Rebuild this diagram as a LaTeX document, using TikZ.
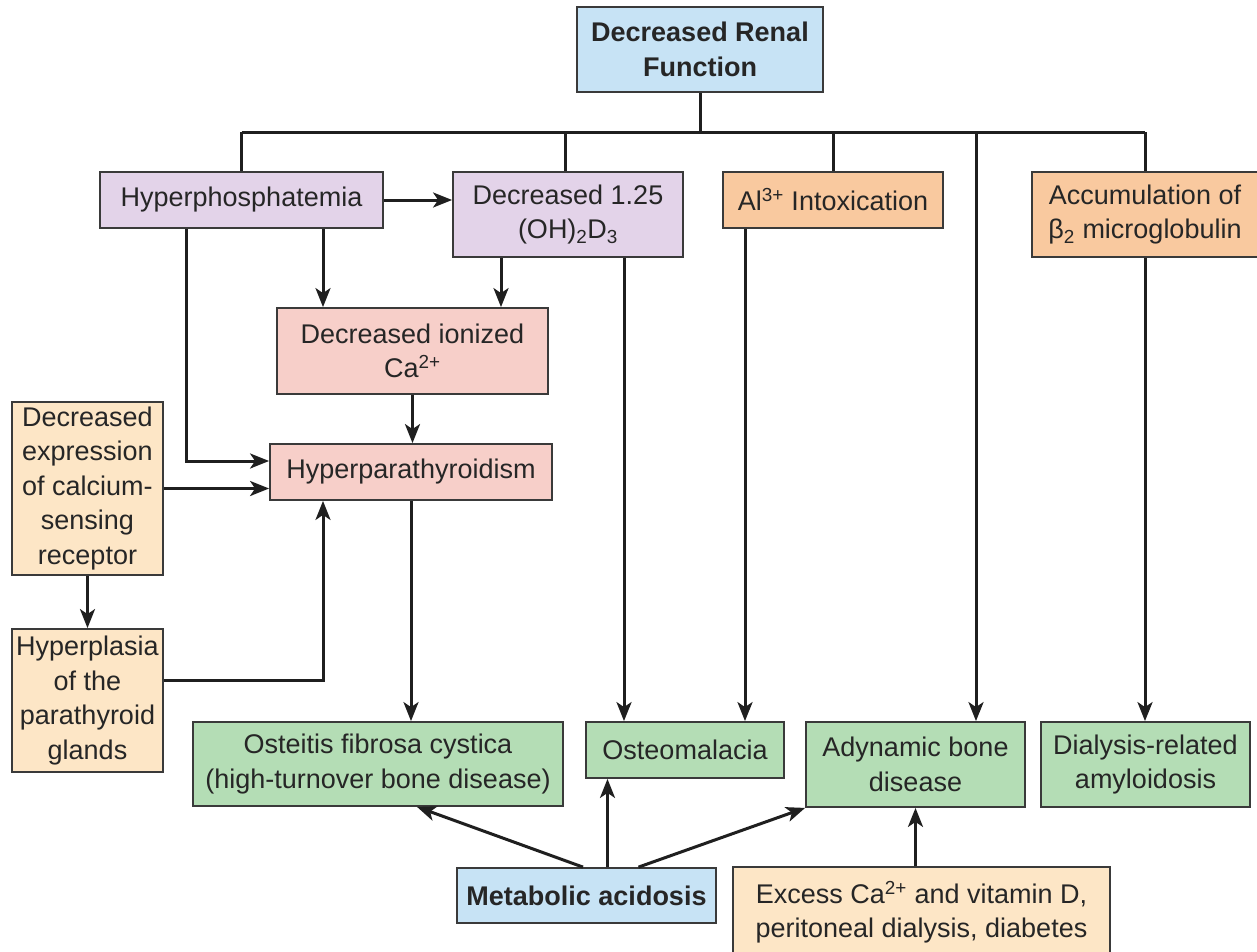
\documentclass[tikz,border=0pt]{standalone}
\usepackage{fontspec}
\setmainfont{Liberation Sans}
\usetikzlibrary{arrows.meta}

\definecolor{cblue}{HTML}{C7E3F5}
\definecolor{cpurple}{HTML}{E3D3E9}
\definecolor{corange}{HTML}{F9C99F}
\definecolor{cpink}{HTML}{F7CFC9}
\definecolor{cyellow}{HTML}{FDE6C6}
\definecolor{cgreen}{HTML}{B4DDB5}
\definecolor{cedge}{HTML}{3A3A3A}

\tikzset{
  box/.style={draw=cedge, line width=1.8pt, align=center, inner sep=0pt,
    font=\fontsize{27}{34.5}\selectfont, text=black!85},
  boxbf/.style={box, font=\fontsize{27}{34.5}\selectfont\bfseries},
  link/.style={line width=3pt, draw=black!88},
  arr/.style={link, -{Stealth[length=19pt,width=15pt,inset=5pt]}},
}

\begin{document}
\begin{tikzpicture}[x=1pt,y=-1pt]
\useasboundingbox (0,0) rectangle (1257,951);

% boxes
\node[boxbf, fill=cblue, minimum width=246, minimum height=85] (drf) at (700,49.5) {Decreased Renal\\Function};

\node[box, fill=cpurple, minimum width=283, minimum height=56] (hph) at (241.5,200) {Hyperphosphatemia};
\node[box, fill=cpurple, minimum width=230, minimum height=85] (d125) at (568,214.5) {Decreased 1.25\\(OH)\textsubscript{2}D\textsubscript{3}};
\node[box, fill=corange, minimum width=220, minimum height=56] (al) at (833,200) {Al\textsuperscript{3+} Intoxication};
\node[box, fill=corange, minimum width=226, minimum height=85] (acc) at (1145,214.5) {Accumulation of\\β\textsubscript{2} microglobulin};

\node[box, fill=cpink, minimum width=271, minimum height=86] (dic) at (412.5,351) {Decreased ionized\\Ca\textsuperscript{2+}};
\node[box, fill=cpink, minimum width=282, minimum height=56] (hpt) at (411,472) {Hyperparathyroidism};

\node[box, fill=cyellow, minimum width=151, minimum height=173] (dce) at (87.5,488.5) {Decreased\\expression\\of calcium-\\sensing\\receptor};
\node[box, fill=cyellow, minimum width=151, minimum height=143] (hpl) at (87.5,700.5) {Hyperplasia\\of the\\parathyroid\\glands};

\node[box, fill=cgreen, minimum width=370, minimum height=84] (ofc) at (378,764) {Osteitis fibrosa cystica\\(high-turnover bone disease)};
\node[box, fill=cgreen, minimum width=198, minimum height=56] (ost) at (685,750) {Osteomalacia};
\node[box, fill=cgreen, minimum width=219, minimum height=85] (adb) at (915.5,764.5) {Adynamic bone\\disease};
\node[box, fill=cgreen, minimum width=209, minimum height=85] (dra) at (1145.5,764.5) {Dialysis-related\\amyloidosis};

\node[boxbf, fill=cblue, minimum width=259, minimum height=55] (mac) at (586.5,895.5) {Metabolic acidosis};
\node[box, fill=cyellow, minimum width=377, minimum height=90] (exc) at (921.5,912) {Excess Ca\textsuperscript{2+} and vitamin D,\\peritoneal dialysis, diabetes};

% distribution bus under the top box
\coordinate (bus) at (0,132);
\coordinate (busR) at (976,132);
\draw[link] (drf.south) -- (drf.south |- bus);
\draw[link] (hph.north |- bus) -- (acc.north |- bus);
\draw[link] (hph.north |- bus) -- (hph.north);
\draw[link] ([xshift=-3]d125.north |- bus) -- ([xshift=-3]d125.north);
\draw[link] (al.north |- bus) -- (al.north);
\draw[link] (acc.north |- bus) -- (acc.north);
\draw[arr] (busR) -- (busR |- adb.north);

% upper causal links
\draw[arr] (hph.east) -- (hph.east -| d125.west);
\draw[arr] ([xshift=81.5]hph.south) -- ([xshift=81.5]hph.south |- dic.north);
\draw[arr] ([xshift=-67]d125.south) -- ([xshift=-67]d125.south |- dic.north);
\draw[arr] ([xshift=-55.5]hph.south) |- ([yshift=11]hpt.west);
\draw[arr] (dic.south) -- (dic.south |- hpt.north);
\draw[arr] (dce.east) -- (dce.east -| hpt.west);
\draw[arr] (dce.south) -- (hpl.north);
\draw[arr] ([yshift=20]hpl.east) -| ([xshift=-88]hpt.south);

% links down to the bone diseases
\draw[arr] (hpt.south) -- (hpt.south |- ofc.north);
\draw[arr] ([xshift=56]d125.south) -- ([xshift=56]d125.south |- ost.north);
\draw[arr] ([xshift=-88]al.south) -- ([xshift=-88]al.south |- ost.north);
\draw[arr] (acc.south) -- (acc.south |- dra.north);

% bottom contributors
\draw[arr] ([xshift=-3.5]mac.north) -- ([xshift=39]ofc.south);
\draw[arr] ([xshift=21]mac.north) -- ([xshift=21]mac.north |- ost.south);
\draw[arr] ([xshift=52]mac.north) -- (adb.south west);
\draw[arr] (adb.south |- exc.north) -- (adb.south);
\end{tikzpicture}
\end{document}
